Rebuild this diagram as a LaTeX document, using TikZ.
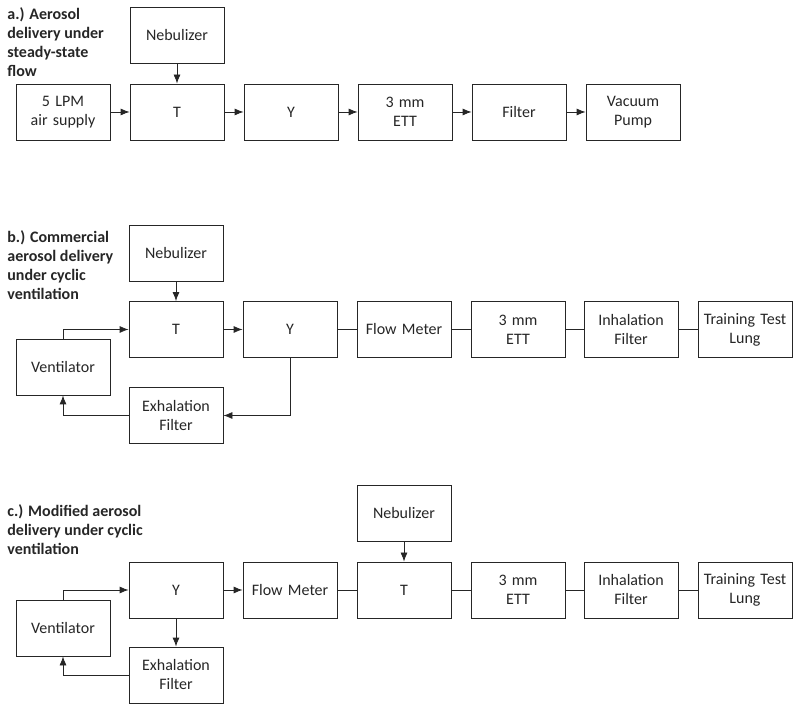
\documentclass[tikz,border=0pt]{standalone}
\usepackage{fontspec}
\setmainfont{Carlito}
\usetikzlibrary{arrows.meta}

\tikzstyle{block} = [draw, rectangle, text centered, text width=88pt, minimum width=94pt, minimum height=56pt, inner sep=3pt]
\tikzstyle{heading} = [anchor=north west, inner sep=0pt, align=left, font=\fontsize{16}{19}\selectfont\bfseries]
\tikzstyle{arrow} = [draw, -{Latex[length=9pt,width=7pt]}]
\tikzstyle{line} = [draw]

\begin{document}
\begin{tikzpicture}[x=1pt, y=1pt, node distance=114pt, color=black!85, line width=0.8pt, font=\fontsize{16}{19}\selectfont]
  \useasboundingbox (0,0) rectangle (800,712);

  % a.) steady-state flow
  \node [heading] (titleA) at (7,705) {a.) Aerosol\\delivery under\\steady-state\\flow};
  \node [block] (airA) at (63,600) {5 LPM\\air supply};
  \node [block, right of=airA] (teeA) {T};
  \node [block, above of=teeA, node distance=76.5pt] (nebA) {Nebulizer};
  \node [block, right of=teeA] (wyeA) {Y};
  \node [block, right of=wyeA] (ettA) {3 mm\\ETT};
  \node [block, right of=ettA] (filterA) {Filter};
  \node [block, right of=filterA] (pumpA) {Vacuum\\Pump};

  \draw [arrow] (nebA.south) -- (teeA.north);
  \draw [arrow] (airA.east) -- (teeA.west);
  \draw [arrow] (teeA.east) -- (wyeA.west);
  \draw [arrow] (wyeA.east) -- (ettA.west);
  \draw [arrow] (ettA.east) -- (filterA.west);
  \draw [arrow] (filterA.east) -- (pumpA.west);

  % b.) commercial, cyclic ventilation
  \node [heading] (titleB) at (7,482) {b.) Commercial\\aerosol delivery\\under cyclic\\ventilation};
  \node [block] (teeB) at (176,382.5) {T};
  \node [block, above of=teeB, node distance=76pt] (nebB) {Nebulizer};
  \node [block, right of=teeB] (wyeB) {Y};
  \node [block, right of=wyeB] (meterB) {Flow Meter};
  \node [block, right of=meterB] (ettB) {3 mm\\ETT};
  \node [block, right of=ettB, node distance=113pt] (inhB) {Inhalation\\Filter};
  \node [block, right of=inhB] (lungB) {Training Test\\Lung};
  \node [block, below of=teeB, node distance=86pt] (exhB) {Exhalation\\Filter};
  \node [block] (ventB) at (63,345) {Ventilator};

  \draw [arrow] (nebB.south) -- (teeB.north);
  \draw [arrow] (teeB.east) -- (wyeB.west);
  \draw [line] (wyeB.east) -- (meterB.west);
  \draw [line] (meterB.east) -- (ettB.west);
  \draw [line] (ettB.east) -- (inhB.west);
  \draw [line] (inhB.east) -- (lungB.west);
  \draw [arrow] (ventB.north) |- (teeB.west);
  \draw [arrow] (wyeB.south) |- (exhB.east);
  \draw [arrow] (exhB.west) -| (ventB.south);

  % c.) modified, cyclic ventilation
  \node [heading] (titleC) at (7,208) {c.) Modified aerosol\\delivery under cyclic\\ventilation};
  \node [block] (wyeC) at (176,122) {Y};
  \node [block, right of=wyeC] (meterC) {Flow Meter};
  \node [block, right of=meterC] (teeC) {T};
  \node [block, above of=teeC, node distance=76.5pt] (nebC) {Nebulizer};
  \node [block, right of=teeC] (ettC) {3 mm\\ETT};
  \node [block, right of=ettC, node distance=113pt] (inhC) {Inhalation\\Filter};
  \node [block, right of=inhC] (lungC) {Training Test\\Lung};
  \node [block, below of=wyeC, node distance=85pt] (exhC) {Exhalation\\Filter};
  \node [block] (ventC) at (63,84) {Ventilator};

  \draw [arrow] (nebC.south) -- (teeC.north);
  \draw [arrow] (wyeC.east) -- (meterC.west);
  \draw [line] (meterC.east) -- (teeC.west);
  \draw [line] (teeC.east) -- (ettC.west);
  \draw [line] (ettC.east) -- (inhC.west);
  \draw [line] (inhC.east) -- (lungC.west);
  \draw [arrow] (ventC.north) |- (wyeC.west);
  \draw [arrow] (wyeC.south) -- (exhC.north);
  \draw [arrow] (exhC.west) -| (ventC.south);
\end{tikzpicture}
\end{document}
